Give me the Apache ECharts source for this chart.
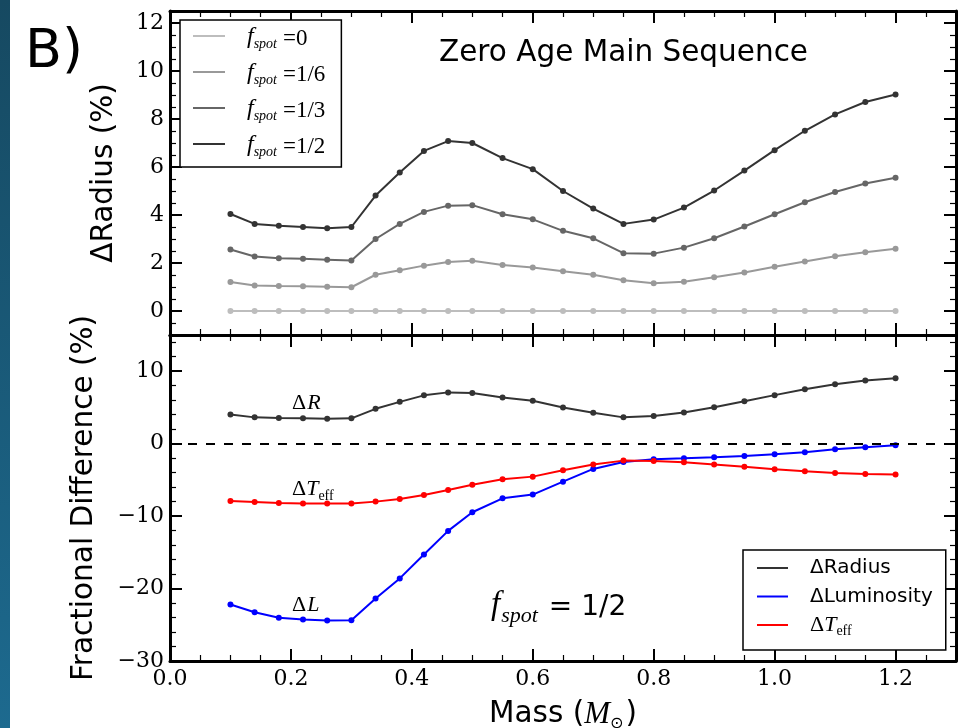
<!DOCTYPE html>
<html><head><meta charset="utf-8">
<script src="https://cdn.jsdelivr.net/npm/echarts@6/dist/echarts.min.js"></script>
<style>html,body{margin:0;padding:0;background:#fff}#c{width:961px;height:728px}</style>
</head><body><div id="c"></div>
<script>
// ---- data ----
const mass = [0.10,0.14,0.18,0.22,0.26,0.30,0.34,0.38,0.42,0.46,0.50,0.55,0.60,0.65,0.70,0.75,0.80,0.85,0.90,0.95,1.00,1.05,1.10,1.15,1.20];
const radiusF0  = [0,0,0,0,0,0,0,0,0,0,0,0,0,0,0,0,0,0,0,0,0,0,0,0,0];
const radiusF16 = [1.21,1.06,1.04,1.03,1.01,0.99,1.51,1.70,1.89,2.04,2.09,1.92,1.81,1.66,1.51,1.28,1.16,1.22,1.41,1.60,1.84,2.06,2.28,2.45,2.59];
const radiusF13 = [2.56,2.27,2.20,2.18,2.14,2.10,3.00,3.63,4.13,4.39,4.41,4.03,3.82,3.34,3.03,2.41,2.39,2.64,3.03,3.52,4.03,4.53,4.96,5.31,5.55];
const radiusF12 = [4.04,3.63,3.55,3.50,3.45,3.50,4.81,5.77,6.67,7.08,7.00,6.37,5.91,5.00,4.27,3.63,3.81,4.31,5.02,5.85,6.70,7.51,8.19,8.71,9.02];
const lumF12    = [-22.2,-23.26,-24.04,-24.27,-24.41,-24.37,-21.37,-18.6,-15.3,-12.04,-9.47,-7.54,-7.03,-5.24,-3.49,-2.52,-2.15,-2.02,-1.88,-1.70,-1.47,-1.19,-0.78,-0.50,-0.23];
const teffF12   = [-7.9,-8.04,-8.2,-8.27,-8.27,-8.27,-8.0,-7.63,-7.08,-6.39,-5.66,-4.92,-4.55,-3.68,-2.89,-2.34,-2.39,-2.57,-2.89,-3.17,-3.54,-3.81,-4.04,-4.18,-4.27];

// ---- axes / ticks ----
const xRange = [0, 1.3];
const xMajorTicks = [0.0, 0.2, 0.4, 0.6, 0.8, 1.0, 1.2];
const yTopRange = [-1, 12.5];
const yTopMajorTicks = [0, 2, 4, 6, 8, 10, 12];
const yBotRange = [-30, 15];
const yBotMajorTicks = [-30, -20, -10, 0, 10];

function minorTicks(range, step, majorStep) {
  const out = [];
  for (let k = Math.ceil(range[0] / step); k * step < range[1] - 1e-9; k++) {
    const v = +(k * step).toFixed(4);
    if (v <= range[0] + 1e-9) continue;
    const r = v / majorStep;
    if (Math.abs(r - Math.round(r)) > 1e-6) out.push(v);
  }
  return out;
}
const xMinorTicks = minorTicks(xRange, 0.05, 0.2);
const yTopMinorTicks = minorTicks(yTopRange, 0.5, 2);
const yBotMinorTicks = minorTicks(yBotRange, 2, 10);

const minus = v => String(v).replace('-', '\u2212');
const serif = 'DejaVu Serif';
const sans = 'DejaVu Sans';
const tserif = 'Liberation Serif';

function mkAxis(grid, position, range, ticks, isMajor, extra) {
  const a = {
    type: 'value', gridIndex: grid, position: position, min: range[0], max: range[1],
    axisLine: { show: isMajor, onZero: false, lineStyle: { color: '#000', width: 3 } },
    axisTick: { show: true, inside: true, length: isMajor ? 12 : 6, customValues: ticks,
      lineStyle: { color: '#000', width: isMajor ? 2 : 1.2 } },
    axisLabel: { show: false },
    splitLine: { show: false }, minorTick: { show: false }, minorSplitLine: { show: false },
    silent: true, axisPointer: { show: false }
  };
  return Object.assign(a, extra || {});
}

const xLabel = { show: true, customValues: xMajorTicks, formatter: v => v.toFixed(1),
  margin: 7, fontFamily: serif, fontSize: 22, color: '#000' };
const yLabel = (vals) => ({ show: true, customValues: vals, formatter: minus,
  margin: 6, fontFamily: serif, fontSize: 22, color: '#000' });

const xAxes = [
  mkAxis(0, 'bottom', xRange, xMajorTicks, true),
  mkAxis(0, 'bottom', xRange, xMinorTicks, false),
  mkAxis(0, 'top', xRange, xMajorTicks, true),
  mkAxis(0, 'top', xRange, xMinorTicks, false),
  mkAxis(1, 'bottom', xRange, xMajorTicks, true, {
    axisLabel: xLabel,
    name: '{a|Mass (}{m|M}{s|\u2299}{a|)}', nameLocation: 'middle', nameGap: 38,
    nameTextStyle: { rich: {
      a: { fontFamily: sans, fontSize: 29.5, color: '#000', verticalAlign: 'top', padding: [0,0,0,0] },
      m: { fontFamily: tserif, fontStyle: 'italic', fontSize: 31, color: '#000', verticalAlign: 'top', padding: [0,0,0,0] },
      s: { fontFamily: sans, fontSize: 16, color: '#000', verticalAlign: 'top', padding: [17,2,0,0] }
    } }
  }),
  mkAxis(1, 'bottom', xRange, xMinorTicks, false),
  mkAxis(1, 'top', xRange, xMajorTicks, true),
  mkAxis(1, 'top', xRange, xMinorTicks, false)
];
const yAxes = [
  mkAxis(0, 'left', yTopRange, yTopMajorTicks, true, {
    axisLabel: yLabel(yTopMajorTicks),
    name: '\u0394Radius (%)', nameLocation: 'middle', nameGap: 51,
    nameTextStyle: { fontFamily: sans, fontSize: 29.5, color: '#000' }
  }),
  mkAxis(0, 'left', yTopRange, yTopMinorTicks, false),
  mkAxis(0, 'right', yTopRange, yTopMajorTicks, true),
  mkAxis(0, 'right', yTopRange, yTopMinorTicks, false),
  mkAxis(1, 'left', yBotRange, yBotMajorTicks, true, {
    axisLabel: yLabel(yBotMajorTicks),
    name: 'Fractional Difference (%)', nameLocation: 'middle', nameGap: 71,
    nameTextStyle: { fontFamily: sans, fontSize: 29.5, color: '#000' }
  }),
  mkAxis(1, 'left', yBotRange, yBotMinorTicks, false),
  mkAxis(1, 'right', yBotRange, yBotMajorTicks, true),
  mkAxis(1, 'right', yBotRange, yBotMinorTicks, false)
];

function pts(arr) { return mass.map((m, i) => [m, arr[i]]); }
function lineSeries(name, arr, color, xi, yi, extra) {
  return Object.assign({
    name: name, type: 'line', xAxisIndex: xi, yAxisIndex: yi, data: pts(arr),
    symbol: 'circle', symbolSize: 6, showSymbol: true,
    lineStyle: { color: color, width: 2 }, itemStyle: { color: color },
    emphasis: { disabled: true }, animation: false, silent: true
  }, extra || {});
}

const topLegendText = {
  f0: '{f|f}{s|spot}{e|=0}', f16: '{f|f}{s|spot}{e|=1/6}',
  f13: '{f|f}{s|spot}{e|=1/3}', f12: '{f|f}{s|spot}{e|=1/2}'
};
const botLegendText = {
  dR: '{a|\u0394Radius}', dL: '{a|\u0394Luminosity}', dT: '{d|\u0394}{t|T}{s|eff}'
};

const chart = echarts.init(document.getElementById('c'), null, { renderer: 'canvas' });
chart.setOption({
  animation: false,
  backgroundColor: '#fff',
  title: [
    { text: 'Zero Age Main Sequence', left: 439, top: 38, padding: 0,
      textStyle: { fontFamily: sans, fontSize: 29.5, fontWeight: 'normal', color: '#000' } },
    { text: 'B)', left: 25, top: 26, padding: 0,
      textStyle: { fontFamily: sans, fontSize: 54, fontWeight: 'normal', color: '#000' } }
  ],
  grid: [
    { left: 170, top: 11, width: 786, height: 324, outerBoundsMode: 'none' },
    { left: 170, top: 335, width: 786, height: 326, outerBoundsMode: 'none' }
  ],
  xAxis: xAxes,
  yAxis: yAxes,
  legend: [
    { data: ['f0', 'f16', 'f13', 'f12'], orient: 'vertical', left: 180, top: 20,
      icon: 'rect', itemWidth: 32, itemHeight: 2, itemGap: 7, selectedMode: false,
      padding: [2, 16, 8, 13], borderColor: '#000', borderWidth: 1.5, backgroundColor: '#fff',
      formatter: n => topLegendText[n],
      textStyle: { rich: {
        f: { fontFamily: tserif, fontStyle: 'italic', fontSize: 24, lineHeight: 28, color: '#000', verticalAlign: 'top', padding: [3, 0, 0, 17] },
        s: { fontFamily: tserif, fontStyle: 'italic', fontSize: 14, lineHeight: 28, color: '#000', verticalAlign: 'top', padding: [15, 0, 0, 0] },
        e: { fontFamily: tserif, fontSize: 23, lineHeight: 28, color: '#000', verticalAlign: 'top', padding: [5, 0, 0, 6] }
      } } },
    { data: ['dR', 'dL', 'dT'], orient: 'vertical', left: 743, top: 550,
      icon: 'rect', itemWidth: 31, itemHeight: 2, itemGap: 6.5, selectedMode: false,
      padding: [6, 13, 12, 14], borderColor: '#000', borderWidth: 1.5, backgroundColor: '#fff',
      formatter: n => botLegendText[n],
      textStyle: { rich: {
        a: { fontFamily: sans, fontSize: 20, lineHeight: 24, color: '#000', verticalAlign: 'top', padding: [2, 0, 0, 17] },
        d: { fontFamily: tserif, fontSize: 22, lineHeight: 24, color: '#000', verticalAlign: 'top', padding: [1, 0, 0, 17] },
        t: { fontFamily: tserif, fontStyle: 'italic', fontSize: 22, lineHeight: 24, color: '#000', verticalAlign: 'top', padding: [1, 0, 0, 0] },
        s: { fontFamily: tserif, fontSize: 14, lineHeight: 24, color: '#000', verticalAlign: 'top', padding: [11, 0, 0, 0] }
      } } }
  ],
  series: [
    lineSeries('f0', radiusF0, '#bdbdbd', 0, 0),
    lineSeries('f16', radiusF16, '#999999', 0, 0),
    lineSeries('f13', radiusF13, '#666666', 0, 0),
    lineSeries('f12', radiusF12, '#333333', 0, 0),
    lineSeries('dR', radiusF12, '#333333', 4, 4, {
      markLine: { silent: true, symbol: ['none', 'none'], label: { show: false }, animation: false,
        lineStyle: { type: [9, 9], width: 2, color: '#000' }, data: [{ yAxis: 0 }] }
    }),
    lineSeries('dL', lumF12, '#0000ff', 4, 4),
    lineSeries('dT', teffF12, '#ff0000', 4, 4)
  ],
  graphic: [
    { type: 'rect', left: 0, top: 0, z: 100, shape: { width: 10, height: 728 },
      style: { fill: new echarts.graphic.LinearGradient(0, 0, 0, 1, [
        { offset: 0, color: '#164961' }, { offset: 1, color: '#1d6a8f' }]) } },
    { type: 'text', left: 292, top: 392, z: 100, style: {
      text: '{d|\u0394}{v|R}', rich: {
        d: { fontFamily: tserif, fontSize: 22, fill: '#000', padding: [0, 1, 0, 0] },
        v: { fontFamily: tserif, fontStyle: 'italic', fontSize: 22, fill: '#000' } } } },
    { type: 'text', left: 292, top: 478, z: 100, style: {
      text: '{d|\u0394}{v|T}{s|eff}', rich: {
        d: { fontFamily: tserif, fontSize: 22, fill: '#000', verticalAlign: 'top' },
        v: { fontFamily: tserif, fontStyle: 'italic', fontSize: 22, fill: '#000', verticalAlign: 'top' },
        s: { fontFamily: tserif, fontSize: 14, fill: '#000', verticalAlign: 'top', padding: [11, 0, 0, 0] } } } },
    { type: 'text', left: 292, top: 594, z: 100, style: {
      text: '{d|\u0394}{v|L}', rich: {
        d: { fontFamily: tserif, fontSize: 22, fill: '#000', padding: [0, 1, 0, 0] },
        v: { fontFamily: tserif, fontStyle: 'italic', fontSize: 22, fill: '#000' } } } },
    { type: 'text', left: 491, top: 589, z: 100, style: {
      text: '{f|f}{s|spot}{e|= 1/2}', rich: {
        f: { fontFamily: tserif, fontStyle: 'italic', fontSize: 33, fill: '#000', verticalAlign: 'top' },
        s: { fontFamily: tserif, fontStyle: 'italic', fontSize: 22, fill: '#000', verticalAlign: 'top', padding: [16, 0, 0, 1] },
        e: { fontFamily: sans, fontSize: 28, fill: '#000', verticalAlign: 'top', padding: [5, 0, 0, 11] } } } }
  ]
});
</script>
</body></html>
